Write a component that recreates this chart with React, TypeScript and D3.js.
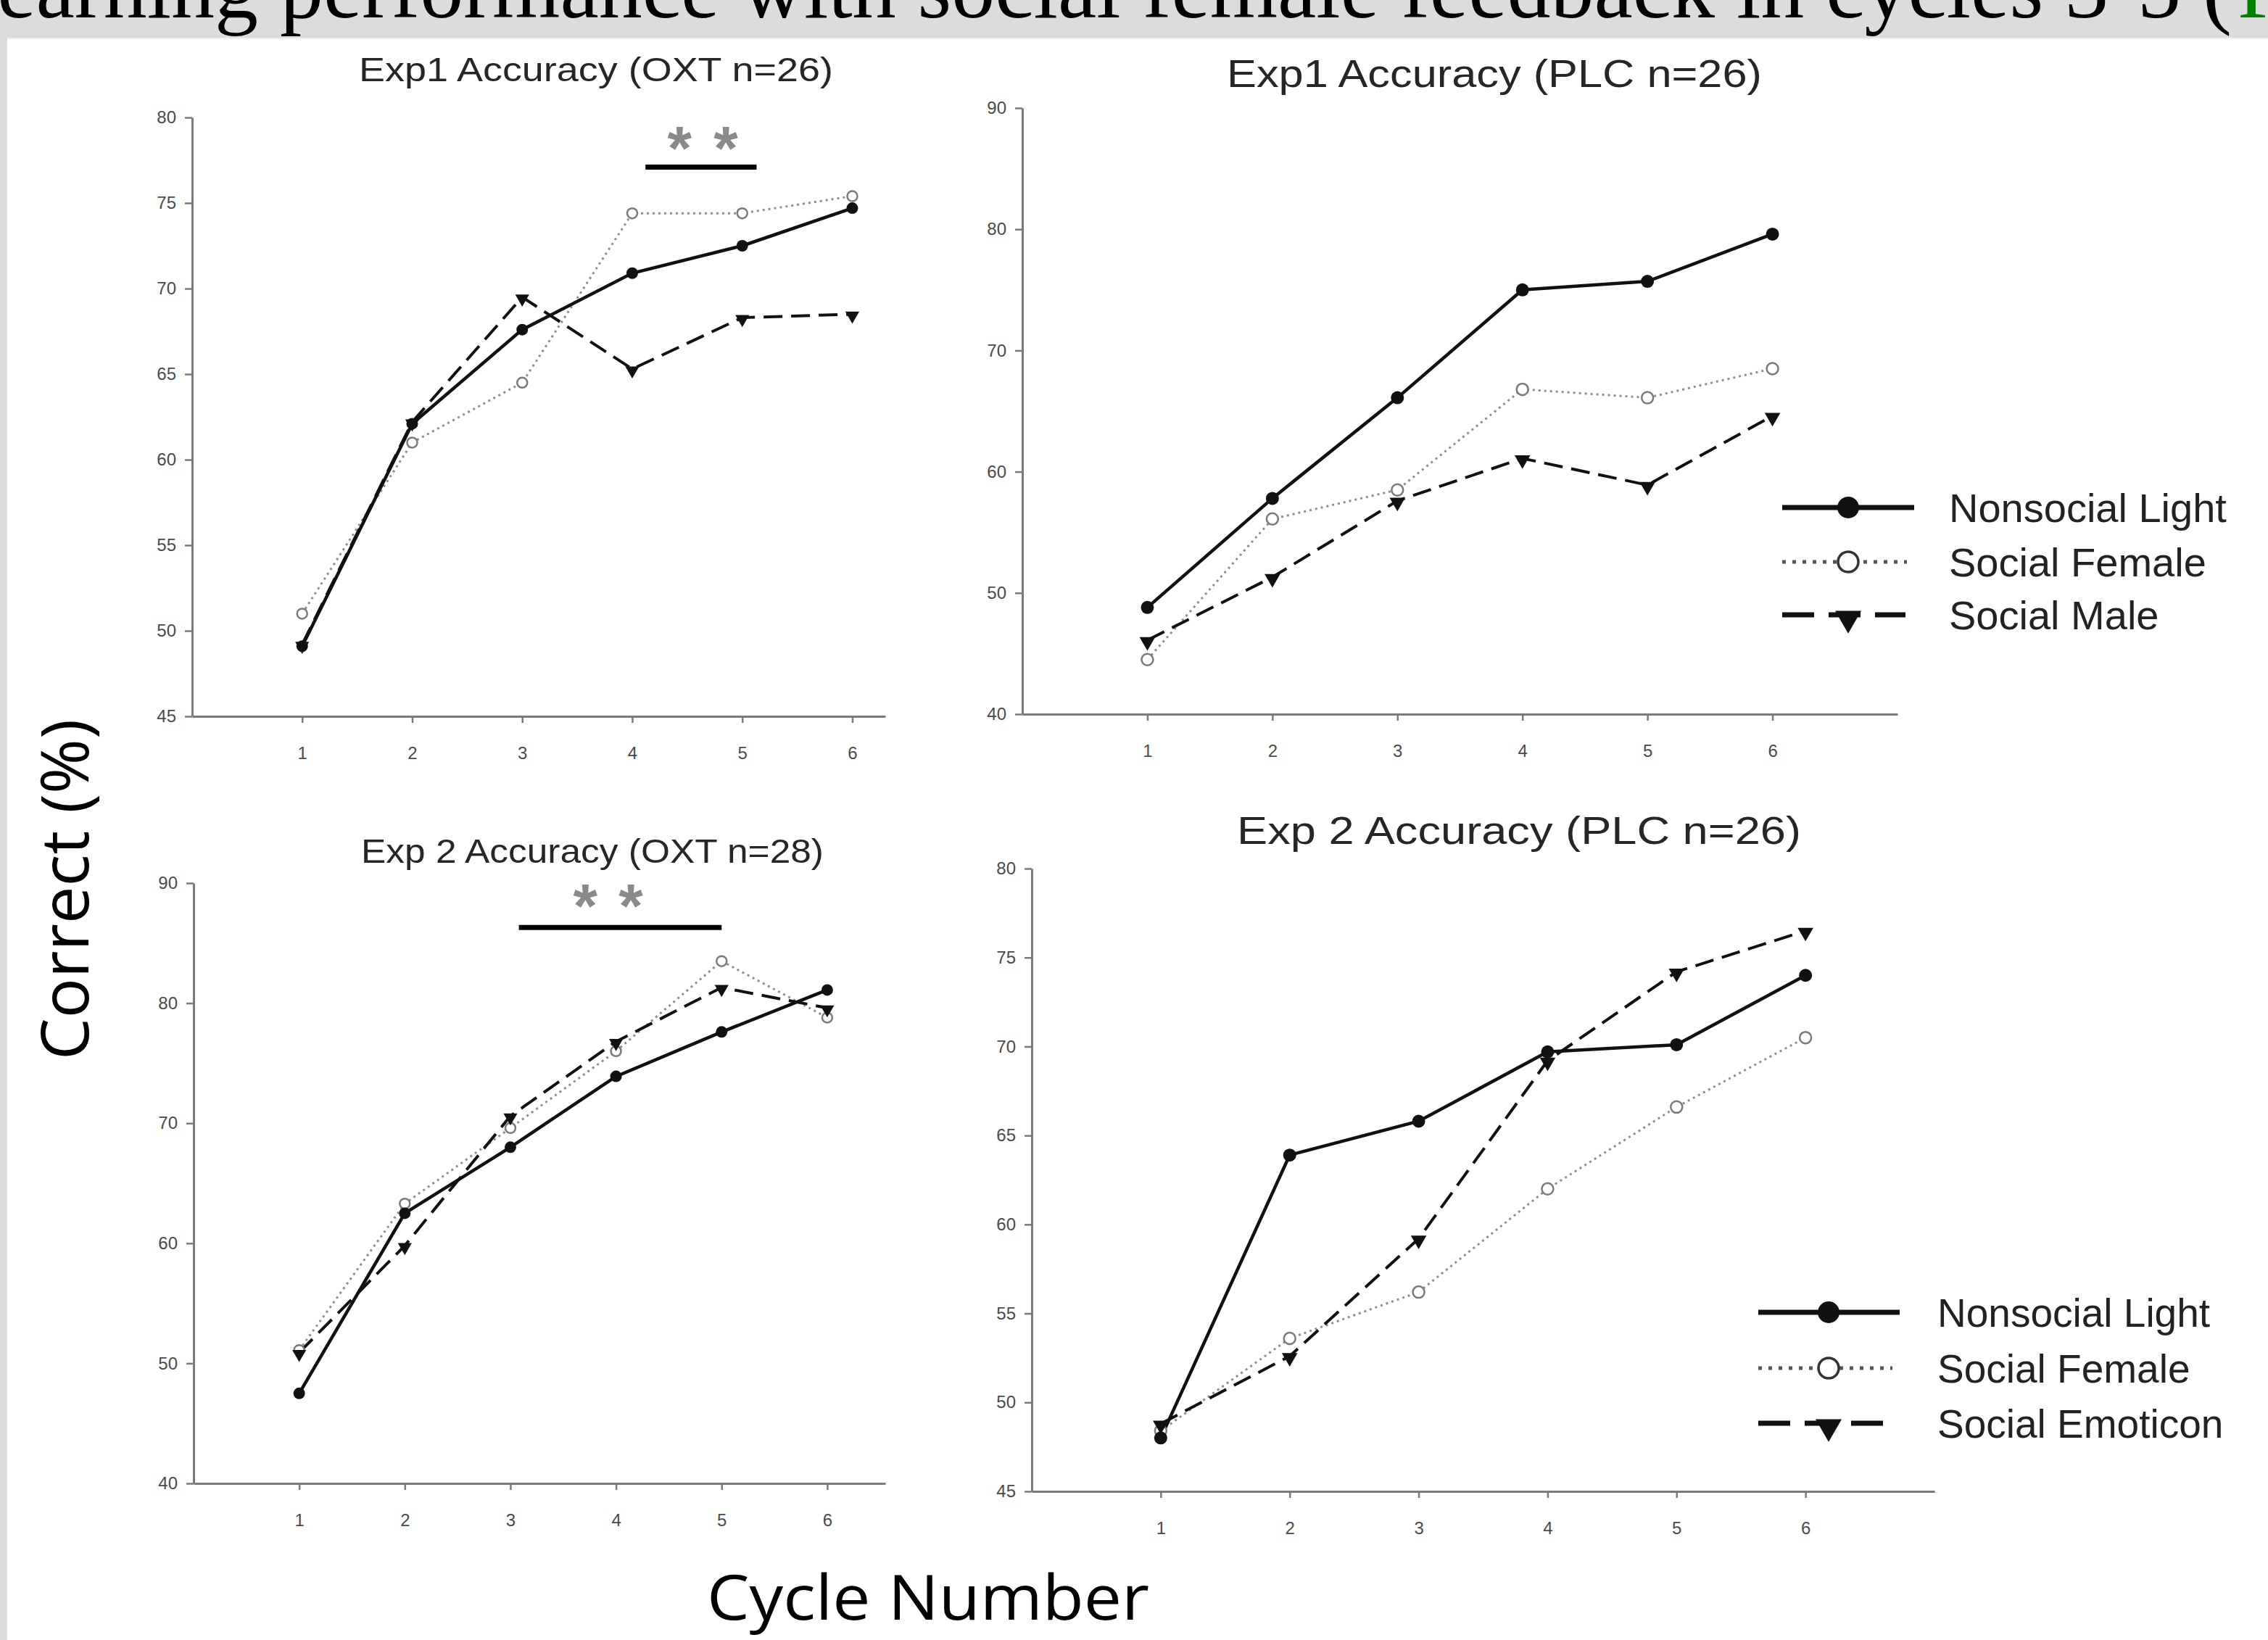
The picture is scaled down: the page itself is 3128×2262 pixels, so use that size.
import React, { useEffect, useRef } from "react";
import * as d3 from "d3";

const WIDTH = 3128;
const HEIGHT = 2262;

const SANS = "'Liberation Sans', Arial, Helvetica, sans-serif";
const SERIF = "'Liberation Serif', 'Times New Roman', serif";
const HUMAN = "'Open Sans', 'Noto Sans', sans-serif";
const AXIS_GREY = "#7a7a7a";

// x categories
const CYCLES = [1, 2, 3, 4, 5, 6];

// Exp1, OXT n=26
const exp1OxtNonsocial = [49.1, 62.1, 67.6, 70.9, 72.5, 74.7];
const exp1OxtFemale = [51.0, 61.0, 64.5, 74.4, 74.4, 75.4];
const exp1OxtMale = [49.2, 62.2, 69.5, 65.3, 68.3, 68.5];

// Exp1, PLC n=26
const exp1PlcNonsocial = [48.8, 57.8, 66.1, 75.0, 75.7, 79.6];
const exp1PlcFemale = [44.5, 56.1, 58.5, 66.8, 66.1, 68.5];
const exp1PlcMale = [46.1, 51.3, 57.6, 61.1, 58.9, 64.6];

// Exp 2, OXT n=28
const exp2OxtNonsocial = [47.5, 62.5, 68.0, 73.9, 77.6, 81.1];
const exp2OxtFemale = [51.1, 63.3, 69.6, 76.0, 83.5, 78.8];
const exp2OxtEmoticon = [50.9, 59.8, 70.6, 76.8, 81.3, 79.6];

// Exp 2, PLC n=26
const exp2PlcNonsocial = [48.0, 63.9, 65.8, 69.7, 70.1, 74.0];
const exp2PlcFemale = [48.4, 53.6, 56.2, 62.0, 66.6, 70.5];
const exp2PlcEmoticon = [48.8, 52.6, 59.2, 69.2, 74.2, 76.5];

const TITLES = [
  "Exp1 Accuracy (OXT n=26)",
  "Exp1 Accuracy (PLC n=26)",
  "Exp 2 Accuracy (OXT n=28)",
  "Exp 2 Accuracy (PLC n=26)",
];
const LEGEND_EXP1 = ["Nonsocial Light", "Social Female", "Social Male"];
const LEGEND_EXP2 = ["Nonsocial Light", "Social Female", "Social Emoticon"];

const Y_TICKS_5 = [45, 50, 55, 60, 65, 70, 75, 80];
const Y_TICKS_10 = [40, 50, 60, 70, 80, 90];

const HEADER_TEXT = "Learning performance with social female feedback in cycles 3-5 (";
const HEADER_LINK = "Fig. 3)";

const panels = [
  {
    title: TITLES[0], series: [exp1OxtNonsocial, exp1OxtFemale, exp1OxtMale],
    yDomain: [45, 80], yTicks: Y_TICKS_5, xMax: 6.3,
    box: { left: 265, right: 1221, top: 162, bottom: 988 },
    titleAt: [822, 112], titleSize: 46, titleWidth: 654, r: 8,
    sig: { x1: 4.12, x2: 5.13, bar: 77.1, stars: [4.43, 4.85], starY: 79.0 },
  },
  {
    title: TITLES[1], series: [exp1PlcNonsocial, exp1PlcFemale, exp1PlcMale],
    yDomain: [40, 90], yTicks: Y_TICKS_10, xMax: 7,
    box: { left: 1410, right: 2617, top: 149, bottom: 985 },
    titleAt: [2061, 120], titleSize: 54, titleWidth: 738, r: 9,
    sig: null,
  },
  {
    title: TITLES[2], series: [exp2OxtNonsocial, exp2OxtFemale, exp2OxtEmoticon],
    yDomain: [40, 90], yTicks: Y_TICKS_10, xMax: 6.55,
    box: { left: 267, right: 1221, top: 1218, bottom: 2046 },
    titleAt: [817, 1190], titleSize: 46, titleWidth: 638, r: 8,
    sig: { x1: 3.08, x2: 5.0, bar: 86.3, stars: [3.71, 4.14], starY: 89.2 },
  },
  {
    title: TITLES[3], series: [exp2PlcNonsocial, exp2PlcFemale, exp2PlcEmoticon],
    yDomain: [45, 80], yTicks: Y_TICKS_5, xMax: 7,
    box: { left: 1423, right: 2668, top: 1198, bottom: 2057 },
    titleAt: [2095, 1164], titleSize: 54, titleWidth: 778, r: 9,
    sig: null,
  },
];

const legends = [
  { names: LEGEND_EXP1, x1: 2458, x2: 2640, mx: 2549, tx: 2688, rows: [700, 775, 848], size: 56 },
  { names: LEGEND_EXP2, x1: 2425, x2: 2620, mx: 2522, tx: 2672, rows: [1810, 1887, 1963], size: 55 },
];

function AxisLeft({ scale, x, ticks }) {
  const ref = useRef<SVGGElement>(null);
  useEffect(() => {
    const g = d3.select(ref.current);
    g.call(
      d3.axisLeft(scale).tickValues(ticks).tickFormat(d3.format("d")).tickSize(10).tickSizeOuter(0).tickPadding(12)
    );
    g.attr("font-size", 24).attr("font-family", SANS);
    g.select(".domain").attr("stroke", AXIS_GREY).attr("stroke-width", 3);
    g.selectAll(".tick line").attr("stroke", AXIS_GREY).attr("stroke-width", 2.5);
    g.selectAll(".tick text").attr("fill", "#4a4a4a");
  }, [scale, ticks]);
  return <g ref={ref} transform={`translate(${x},0)`} />;
}

function AxisBottom({ scale, y }) {
  const ref = useRef<SVGGElement>(null);
  useEffect(() => {
    const g = d3.select(ref.current);
    g.call(
      d3.axisBottom(scale).tickValues(CYCLES).tickFormat(d3.format("d")).tickSize(9).tickSizeOuter(0).tickPadding(33)
    );
    g.attr("font-size", 24).attr("font-family", SANS);
    g.select(".domain").attr("stroke", AXIS_GREY).attr("stroke-width", 3);
    g.selectAll(".tick line").attr("stroke", AXIS_GREY).attr("stroke-width", 2.5);
    g.selectAll(".tick text").attr("fill", "#4a4a4a");
  }, [scale]);
  return <g ref={ref} transform={`translate(0,${y})`} />;
}

const triangle = (side) =>
  d3.symbol().type(d3.symbolTriangle).size((side * side * Math.sqrt(3)) / 4)();

function Panel({ p }) {
  const x = d3.scaleLinear().domain([0, p.xMax]).range([p.box.left, p.box.right]);
  const y = d3.scaleLinear().domain(p.yDomain).range([p.box.bottom, p.box.top]);
  const line = d3
    .line<number>()
    .x((_, i) => x(CYCLES[i]))
    .y((d) => y(d));
  const [solid, dotted, dashed] = p.series;

  return (
    <g>
      <text
        x={p.titleAt[0]} y={p.titleAt[1]} textAnchor="middle" fontFamily={SANS}
        fontSize={p.titleSize} fill="#262626" textLength={p.titleWidth} lengthAdjust="spacingAndGlyphs"
      >
        {p.title}
      </text>
      <AxisLeft scale={y} x={p.box.left} ticks={p.yTicks} />
      <AxisBottom scale={x} y={p.box.bottom} />

      <path d={line(dotted)} fill="none" stroke="#8e8e8e" strokeWidth={3} strokeDasharray="3 5" />
      <path d={line(dashed)} fill="none" stroke="#111" strokeWidth={4} strokeDasharray="26 12" />
      <path d={line(solid)} fill="none" stroke="#111" strokeWidth={4.5} />

      {dotted.map((d, i) => (
        <circle key={"f" + i} cx={x(CYCLES[i])} cy={y(d)} r={p.r - 1} fill="#fff" stroke="#7a7a7a" strokeWidth={2.5} />
      ))}
      {dashed.map((d, i) => (
        <path key={"m" + i} d={triangle(p.r * 2.4)} transform={`translate(${x(CYCLES[i])},${y(d) + 2}) rotate(180)`} fill="#111" />
      ))}
      {solid.map((d, i) => (
        <circle key={"n" + i} cx={x(CYCLES[i])} cy={y(d)} r={p.r} fill="#111" />
      ))}

      {p.sig && (
        <g>
          <line x1={x(p.sig.x1)} x2={x(p.sig.x2)} y1={y(p.sig.bar)} y2={y(p.sig.bar)} stroke="#000" strokeWidth={7} />
          {p.sig.stars.map((s, i) => (
            <text key={i} x={x(s)} y={y(p.sig.starY) + 48} textAnchor="middle" fontFamily={SANS}
              fontWeight="bold" fontSize={86} fill="#8a8a8a">
              *
            </text>
          ))}
        </g>
      )}
    </g>
  );
}

function Legend({ l }) {
  const [r0, r1, r2] = l.rows;
  return (
    <g fontFamily={SANS} fontSize={l.size} fill="#222">
      <line x1={l.x1} x2={l.x2} y1={r0} y2={r0} stroke="#111" strokeWidth={7} />
      <circle cx={l.mx} cy={r0} r={15} fill="#111" />
      <line x1={l.x1} x2={l.x2 - 10} y1={r1} y2={r1} stroke="#555" strokeWidth={5} strokeDasharray="5 9" />
      <circle cx={l.mx} cy={r1} r={14} fill="#fff" stroke="#333" strokeWidth={3.5} />
      <line x1={l.x1} x2={l.x2 - 12} y1={r2} y2={r2} stroke="#111" strokeWidth={7} strokeDasharray="44 20" />
      <path d={triangle(36)} transform={`translate(${l.mx},${r2 + 5}) rotate(180)`} fill="#111" />
      {l.names.map((n, i) => (
        <text key={n} x={l.tx} y={l.rows[i] + 20}>
          {n}
        </text>
      ))}
    </g>
  );
}

export default function App() {
  return (
    <svg width={WIDTH} height={HEIGHT} style={{ position: "absolute", left: 0, top: 0, display: "block" }}>
      <defs>
        <clipPath id="band">
          <rect x={0} y={0} width={WIDTH} height={52} />
        </clipPath>
      </defs>
      <rect x={0} y={0} width={WIDTH} height={HEIGHT} fill="#fff" />
      <rect x={0} y={0} width={WIDTH} height={52} fill="#dcdcdc" />
      <rect x={0} y={52} width={WIDTH} height={2} fill="#efefef" />
      <rect x={0} y={0} width={10} height={HEIGHT} fill="#dcdcdc" />
      <g clipPath="url(#band)">
        <text x={3078} y={24} textAnchor="end" fontFamily={SERIF} fontSize={120} fill="#000">
          {HEADER_TEXT}
        </text>
        <text x={3086} y={24} fontFamily={SERIF} fontSize={120} fill="#008000">
          {HEADER_LINK}
        </text>
      </g>

      {panels.map((p) => (
        <Panel key={p.title} p={p} />
      ))}
      {legends.map((l, i) => (
        <Legend key={i} l={l} />
      ))}

      <text
        transform="translate(122,1227) rotate(-90)" textAnchor="middle" fontFamily={HUMAN}
        fontSize={92} fill="#000" textLength={470} lengthAdjust="spacingAndGlyphs"
      >
        Correct (%)
      </text>
      <text
        x={1280} y={2234} textAnchor="middle" fontFamily={HUMAN} fontSize={86} fill="#000"
        textLength={610} lengthAdjust="spacingAndGlyphs"
      >
        Cycle Number
      </text>
    </svg>
  );
}
